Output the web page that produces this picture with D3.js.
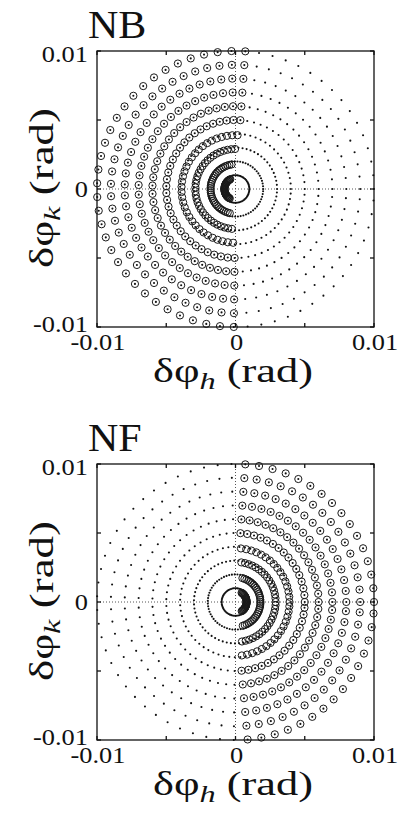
<!DOCTYPE html>
<html><head><meta charset="utf-8">
<script src="https://cdn.jsdelivr.net/npm/d3@7"></script>
<style>
body{margin:0;background:#fff}
text{font-family:"Liberation Serif","Times New Roman",serif;fill:#111}
</style>
</head><body><svg id="chart"></svg>
<script>
var width = 407, height = 813;

// scan rings (rad) and the angle grid used on every ring
var ringRadii = [0.001, 0.002, 0.003, 0.004, 0.005, 0.006, 0.007, 0.008, 0.009, 0.01];
var angleStep = 0.1;      // rad
var anglesPerRing = 63;   // 0, 0.1, ... 6.2
// radius where the open circles of each ring end up, and how much their arc is squeezed
var circleRadii = [0.0008, 0.0018, 0.0029, 0.0039, 0.005, 0.006, 0.007, 0.008, 0.009, 0.01];
var circleSpread = [0.66, 0.86, 0.95, 0.98, 1, 1, 1, 1, 1, 1];
// angle indices that got an open circle
var nbCircled = [[15, 47]];
var nfCircled = [[48, 62], [0, 15]];

var tickValues = [-0.01, -0.005, 0, 0.005, 0.01];
var tickLabels = ["-0.01", "", "0", "", "0.01"];
var panelNames = ["NB", "NF"];

var panels = [
    {name: panelNames[0], top: 51, circled: nbCircled, center: Math.PI},
    {name: panelNames[1], top: 464, circled: nfCircled, center: 0}
];
var left = 97, pw = 277, ph = 276;

var svg = d3.select("#chart").attr("width", width).attr("height", height);

function inRanges(k, ranges) {
    return ranges.some(function (r) { return k >= r[0] && k <= r[1]; });
}

// stretch a text sideways (the original figure's type is wide)
function widen(sel, tx, ty, sx, rot) {
    sel.attr("transform", "translate(" + tx + "," + ty + ")" + (rot ? " rotate(" + rot + ")" : "") + " scale(" + sx + ",1)");
}

function axisLabel(g, sub, tx, ty, rot, targetLen) {
    var t = g.append("text").attr("text-anchor", "middle").attr("font-size", 33);
    t.append("tspan").text("δφ");
    t.append("tspan").attr("font-style", "italic").attr("font-size", 24).attr("dy", 7).text(sub);
    t.append("tspan").attr("dy", -7).text(" (rad)");
    var w = t.node().getComputedTextLength();
    widen(t, tx, ty, targetLen / w, rot);
}

panels.forEach(function (p) {
    var x = d3.scaleLinear().domain([-0.01, 0.01]).range([left, left + pw]);
    var y = d3.scaleLinear().domain([-0.01, 0.01]).range([p.top + ph, p.top]);
    var g = svg.append("g");

    var dots = [], circles = [];
    ringRadii.forEach(function (r, i) {
        for (var k = 0; k < anglesPerRing; k++) {
            var a = k * angleStep;
            dots.push({h: r * Math.cos(a), k: r * Math.sin(a)});
            if (inRanges(k, p.circled)) {
                var d = a - p.center;
                while (d > Math.PI) d -= 2 * Math.PI;
                while (d < -Math.PI) d += 2 * Math.PI;
                var b = p.center + d * circleSpread[i];
                circles.push({h: circleRadii[i] * Math.cos(b), k: circleRadii[i] * Math.sin(b)});
            }
        }
    });

    // zero lines
    g.append("line").attr("x1", x(0)).attr("x2", x(0)).attr("y1", y(-0.01)).attr("y2", y(0.01))
        .attr("stroke", "#555").attr("stroke-width", 1).attr("stroke-dasharray", "1,2");
    g.append("line").attr("y1", y(0)).attr("y2", y(0)).attr("x1", x(-0.01)).attr("x2", x(0.01))
        .attr("stroke", "#555").attr("stroke-width", 1).attr("stroke-dasharray", "1,2");

    g.append("g").selectAll("circle").data(dots).enter().append("circle")
        .attr("cx", function (d) { return x(d.h); })
        .attr("cy", function (d) { return y(d.k); })
        .attr("r", 1.05)
        .attr("fill", "#111");

    g.append("g").selectAll("circle").data(circles).enter().append("circle")
        .attr("cx", function (d) { return x(d.h); })
        .attr("cy", function (d) { return y(d.k); })
        .attr("r", 3.6)
        .attr("fill", "none")
        .attr("stroke", "#1a1a1a")
        .attr("stroke-width", 1);

    // box with inward ticks on all sides
    var ax = g.append("g").attr("stroke", "#111").attr("stroke-width", 1.3);
    ax.append("rect").attr("x", x(-0.01)).attr("y", y(0.01)).attr("width", pw).attr("height", ph)
        .attr("fill", "none");
    tickValues.forEach(function (t) {
        ax.append("line").attr("x1", x(t)).attr("x2", x(t)).attr("y1", y(-0.01)).attr("y2", y(-0.01) - 4);
        ax.append("line").attr("x1", x(t)).attr("x2", x(t)).attr("y1", y(0.01)).attr("y2", y(0.01) + 4);
        ax.append("line").attr("y1", y(t)).attr("y2", y(t)).attr("x1", x(-0.01)).attr("x2", x(-0.01) + 4);
        ax.append("line").attr("y1", y(t)).attr("y2", y(t)).attr("x1", x(0.01)).attr("x2", x(0.01) - 4);
    });

    // tick labels
    tickValues.forEach(function (t, i) {
        if (!tickLabels[i]) return;
        var tx = g.append("text").attr("text-anchor", "middle").attr("font-size", 24).text(tickLabels[i]);
        widen(tx, x(t) + 1, y(-0.01) + 23, 1.1);
        var yy = y(t);
        if (t === 0.01) yy += 3;
        if (t === -0.01) yy -= 3;
        var ty = g.append("text").attr("text-anchor", "end").attr("font-size", 24).text(tickLabels[i]);
        widen(ty, x(-0.01) - 9, yy + 8, 1.1);
    });

    var nm = g.append("text").attr("font-size", 40).text(p.name);
    widen(nm, 88, p.top - 13, 1.05);

    axisLabel(g, "h", 233, y(-0.01) + 55, 0, 160);
    axisLabel(g, "k", 53, y(0) - 1, -90, 160);
});
</script>
</body></html>
